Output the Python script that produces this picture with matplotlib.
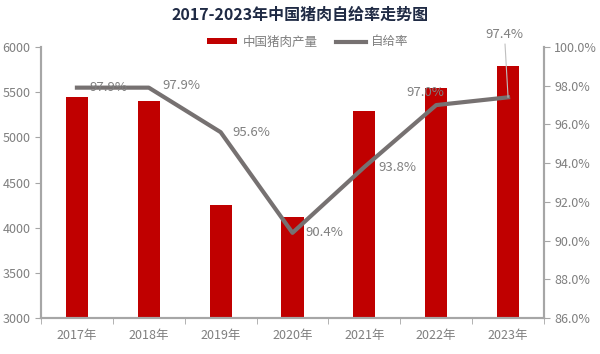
import numpy as np
import matplotlib.pyplot as plt

plt.rcParams['font.family'] = ['Noto Sans CJK SC', 'DejaVu Sans']

years = ["2017年", "2018年", "2019年", "2020年", "2021年", "2022年", "2023年"]
output = [5452, 5404, 4255, 4113, 5296, 5541, 5794]
self_rate = [97.9, 97.9, 95.6, 90.4, 93.8, 97.0, 97.4]

grey = "#a6a6a6"
txt = "#7f7f7f"

fig = plt.figure(figsize=(6, 3.54), dpi=100)
ax = fig.add_axes([41 / 600, 1 - 318 / 354, 503 / 600, 271 / 354])
ax2 = ax.twinx()

x = np.arange(len(years))
ax.bar(x, output, width=0.31, color="#c00000", label="中国猪肉产量", zorder=2)
ax2.plot(x, self_rate, color="#767171", lw=3, label="自给率", zorder=3)

ax.set_xlim(-0.5, len(years) - 0.5)
ax.set_ylim(3000, 6000)
ax.set_yticks(range(3000, 6001, 500))
ax2.set_ylim(86, 100)
ax2.set_yticks(np.arange(86, 100.1, 2))
ax2.set_yticklabels([f"{v:.1f}%" for v in np.arange(86, 100.1, 2)])

ax.set_xticks(x)
ax.set_xticklabels(years)
ax.set_xticks(np.arange(-0.5, len(years)), minor=True)
ax.tick_params(axis="x", which="major", length=0, colors=txt, labelsize=9, pad=8)
ax.tick_params(axis="x", which="minor", length=4, color=grey)
ax.tick_params(axis="y", length=4, color=grey, colors=txt, labelsize=9)
ax2.tick_params(axis="y", length=4, color=grey, colors=txt, labelsize=9)

for a in (ax, ax2):
    a.spines["top"].set_visible(False)
    for s in ("left", "right", "bottom"):
        a.spines[s].set_color(grey)
        a.spines[s].set_linewidth(1.5)

# data labels
offs = [(0.18, 0.0, "left"), (0.19, 0.1, "left"), (0.16, 0.0, "left"),
        (0.18, 0.0, "left"), (0.19, 0.0, "left"), (0.11, 0.67, "right")]
for i, (dx, dy, ha) in enumerate(offs):
    ax2.text(x[i] + dx, self_rate[i] + dy, f"{self_rate[i]:.1f}%", ha=ha,
             va="center", color=txt, fontsize=9.5, zorder=4)
ax2.annotate(f"{self_rate[6]:.1f}%", xy=(x[6], self_rate[6]),
             xytext=(x[6] - 0.05, 100.3), ha="center", va="bottom", color=txt,
             fontsize=9.5, annotation_clip=False,
             arrowprops=dict(arrowstyle="-", color="#bfbfbf", lw=0.8,
                             shrinkA=0, shrinkB=0))

h1, l1 = ax.get_legend_handles_labels()
h2, l2 = ax2.get_legend_handles_labels()
fig.legend(h1 + h2, l1 + l2, loc="center", bbox_to_anchor=(308 / 600, 1 - 42 / 354),
           ncol=2, frameon=False, fontsize=9, labelcolor=txt,
           handlelength=2.4, handleheight=0.4, handletextpad=0.4,
           columnspacing=1.5)

fig.text(0.5, 1 - 15 / 354, "2017-2023年中国猪肉自给率走势图", ha="center",
         va="center", fontsize=11.5, fontweight="bold", color="#1f2a44")

fig.savefig("out.png", dpi=100)
